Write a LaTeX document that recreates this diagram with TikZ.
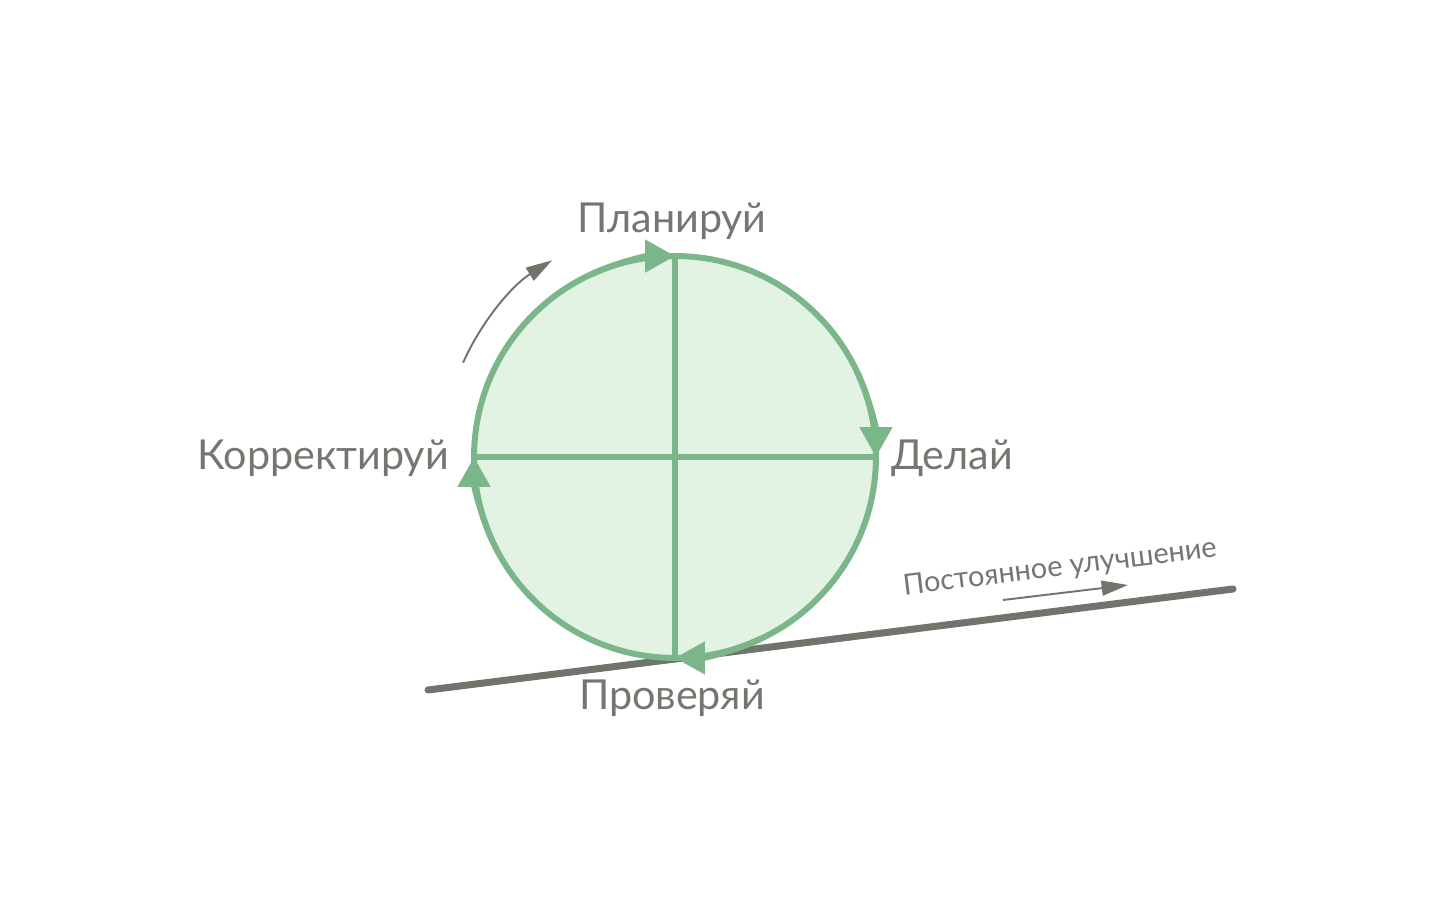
\documentclass[tikz,border=0pt]{standalone}
\usepackage{fontspec}
\setmainfont{Lato}
\usetikzlibrary{arrows.meta, positioning, calc}
\definecolor{pdcagreen}{HTML}{7BB68A}
\definecolor{pdcafill}{HTML}{E2F2E3}
\definecolor{pdcagray}{HTML}{6F746C}
\definecolor{pdcatext}{HTML}{737770}

\begin{document}
\begin{tikzpicture}[x=0.02cm, y=0.02cm,
    lbl/.style={text=pdcatext, font=\fontsize{23.5}{28}\selectfont, inner sep=0pt},
    rim/.style={draw=pdcagreen, line width=3.4pt, -{Triangle[length=17pt, width=18pt]}},
    cross/.style={draw=pdcagreen, line width=3.4pt},
    road/.style={draw=pdcagray, line width=4pt, line cap=round},
    hint/.style={draw=pdcagray, line width=1.1pt, -{Triangle[length=15pt, width=8.5pt]}}]
    \useasboundingbox (0,0) rectangle (1434,920);

    \coordinate (r1) at (428,230);
    \coordinate (r2) at (1233,331);
    \draw[road] (r1) -- (r2);

    \node[circle, fill=pdcafill, draw=pdcagreen, line width=3.4pt, minimum size=8.04cm, inner sep=0pt, outer sep=0pt] (pdca) at (675,463) {};
    \draw[cross] (pdca.north) -- (pdca.south);
    \draw[cross] (pdca.west) -- (pdca.east);
    % arrow heads sit on short arcs ending at the quadrant points
    \draw[rim] ($(pdca.center)+(115:4.02cm)$) arc[start angle=115, end angle=90, radius=4.02cm];
    \draw[rim] ($(pdca.center)+(25:4.02cm)$) arc[start angle=25, end angle=0, radius=4.02cm];
    \draw[rim] ($(pdca.center)+(-65:4.02cm)$) arc[start angle=-65, end angle=-90, radius=4.02cm];
    \draw[rim] ($(pdca.center)+(205:4.02cm)$) arc[start angle=205, end angle=180, radius=4.02cm];

    \node[lbl, above=0.48cm of pdca.north, anchor=base, xshift=-0.06cm] (plan) {Планируй};
    \node[lbl, right=0.30cm of pdca.east, anchor=base west, yshift=-0.26cm] (do) {Делай};
    \node[lbl, below=1.04cm of pdca.south, anchor=base, xshift=-0.06cm] (check) {Проверяй};
    \node[lbl, left=0.50cm of pdca.west, anchor=base east, yshift=-0.26cm] (act) {Корректируй};

    \coordinate (h1) at ($(pdca.center)+(156:4.64cm)$);
    \draw[hint] (h1) arc[start angle=156, end angle=122, radius=4.64cm];

    \node[lbl, font=\fontsize{16.5}{20}\selectfont, rotate=7] (impr) at (1060,352) {Постоянное улучшение};
    \coordinate (p1) at (1003,320);
    \coordinate (p2) at (1128,335);
    \draw[hint] (p1) -- (p2);
\end{tikzpicture}
\end{document}
